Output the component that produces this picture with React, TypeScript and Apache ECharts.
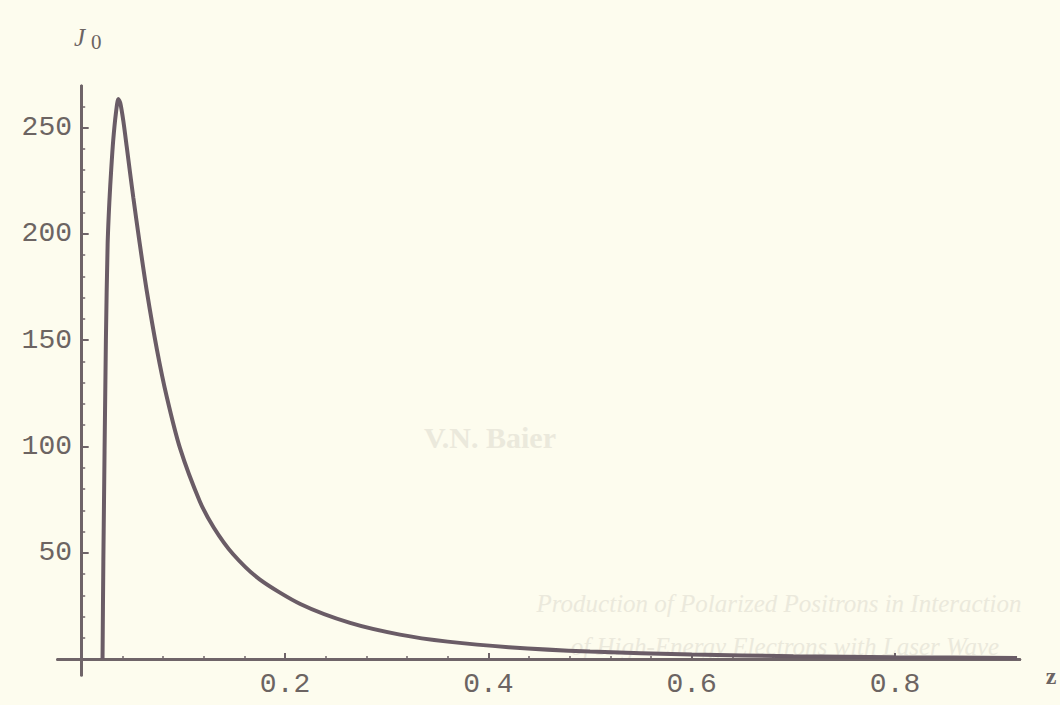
import React, { useEffect, useRef } from "react";
import * as echarts from "echarts";

// z values (abscissa) and J0 values
const zVals = [
  0.0205, 0.0213, 0.0238, 0.0255, 0.0272, 0.029, 0.031, 0.0337, 0.036, 0.038,
  0.041, 0.0443, 0.0475, 0.0508, 0.057, 0.064, 0.074, 0.0836, 0.0967, 0.116,
  0.13, 0.149, 0.175, 0.215, 0.264, 0.313, 0.36, 0.42, 0.5, 0.6, 0.7, 0.8, 0.92,
];
const jVals = [
  0, 46, 150, 195, 215, 230, 244, 257, 263.5, 261.5,
  253, 241, 229, 217, 195.7, 173.2, 145.6, 123.5, 99.2, 74.4,
  61.8, 49.3, 37.5, 25.9, 17.0, 11.5, 8.2, 5.6, 3.55, 2.13, 1.34, 0.86, 0.49,
];

const xMajorTicks = [0.2, 0.4, 0.6, 0.8];
const xMinorTicks = [0.04, 0.08, 0.12, 0.16, 0.24, 0.28, 0.32, 0.36, 0.44, 0.48, 0.52, 0.56, 0.64, 0.68, 0.72, 0.76, 0.84, 0.88];
const yMajorTicks = [50, 100, 150, 200, 250];
const yMinorTicks = [10, 20, 30, 40, 60, 70, 80, 90, 110, 120, 130, 140, 160, 170, 180, 190, 210, 220, 230, 240, 260];

const bleedTitle = "V.N. Baier";
const bleedLine1 = "Production of Polarized Positrons in Interaction";
const bleedLine2 = "of High-Energy Electrons with Laser Wave";

const X_MIN = -0.0236;
const X_MAX = 0.9226;
const Y_MIN = -7.5;
const Y_MAX = 269.6;

const AX = "#6f6468";
const LINE = "#6a5c66";
const TXT = "#6c6462";
const BG = "#fdfcee";
const FAINT = "#ebe9dc";

export default function App() {
  const ref = useRef<HTMLDivElement>(null);

  useEffect(() => {
    if (!ref.current) return;
    const chart = echarts.init(ref.current, null, { renderer: "svg" });

    const labelStyle = {
      fontFamily: "Liberation Mono",
      fontSize: 28,
      color: TXT,
    };

    const option = {
      animation: false,
      backgroundColor: BG,
      grid: {
        left: 57.7,
        right: 40.3,
        top: 86,
        bottom: 30,
        containLabel: false,
        outerBoundsMode: "none",
      },
      xAxis: [
        {
          type: "value",
          min: X_MIN,
          max: X_MAX,
          position: "bottom",
          axisLine: { show: true, onZero: true, lineStyle: { color: AX, width: 3 } },
          axisTick: {
            show: true,
            inside: true,
            length: 6,
            customValues: xMajorTicks,
            lineStyle: { color: AX, width: 2 },
          },
          axisLabel: {
            show: true,
            customValues: xMajorTicks,
            formatter: (v: number) => v.toFixed(1),
            margin: -5,
            ...labelStyle,
          },
          splitLine: { show: false },
        },
        {
          type: "value",
          min: X_MIN,
          max: X_MAX,
          position: "bottom",
          axisLine: { show: true, onZero: true, lineStyle: { color: AX, width: 3 } },
          axisTick: {
            show: true,
            inside: true,
            length: 3,
            customValues: xMinorTicks,
            lineStyle: { color: AX, width: 1.5 },
          },
          axisLabel: { show: false },
          splitLine: { show: false },
        },
      ],
      yAxis: [
        {
          type: "value",
          min: Y_MIN,
          max: Y_MAX,
          position: "left",
          axisLine: { show: true, onZero: true, lineStyle: { color: AX, width: 3 } },
          axisTick: {
            show: true,
            inside: true,
            length: 7,
            customValues: yMajorTicks,
            lineStyle: { color: AX, width: 2 },
          },
          axisLabel: {
            show: true,
            customValues: yMajorTicks,
            margin: -14.3,
            ...labelStyle,
          },
          splitLine: { show: false },
        },
        {
          type: "value",
          min: Y_MIN,
          max: Y_MAX,
          position: "left",
          axisLine: { show: true, onZero: true, lineStyle: { color: AX, width: 3 } },
          axisTick: {
            show: true,
            inside: true,
            length: 3.5,
            customValues: yMinorTicks,
            lineStyle: { color: AX, width: 1.5 },
          },
          axisLabel: { show: false },
          splitLine: { show: false },
        },
      ],
      series: [
        {
          type: "line",
          xAxisIndex: 0,
          yAxisIndex: 0,
          data: zVals.map((z, i) => [z, jVals[i]]),
          showSymbol: false,
          smooth: 0.25,
          lineStyle: { color: LINE, width: 4 },
          z: 5,
        },
      ],
      graphic: [
        {
          type: "text",
          x: 490,
          y: 437,
          silent: true,
          z: -10,
          style: {
            text: bleedTitle,
            font: "bold 30px 'Liberation Serif'",
            fill: FAINT,
            textAlign: "center",
            textVerticalAlign: "middle",
          },
        },
        {
          type: "text",
          x: 779,
          y: 603,
          silent: true,
          z: -10,
          style: {
            text: bleedLine1,
            font: "italic 25px 'Liberation Serif'",
            fill: FAINT,
            textAlign: "center",
            textVerticalAlign: "middle",
          },
        },
        {
          type: "text",
          x: 785,
          y: 646,
          silent: true,
          z: -10,
          style: {
            text: bleedLine2,
            font: "italic 25px 'Liberation Serif'",
            fill: FAINT,
            textAlign: "center",
            textVerticalAlign: "middle",
          },
        },
        {
          type: "text",
          x: 74,
          y: 25,
          style: {
            text: "J",
            font: "italic 25px 'Liberation Serif'",
            fill: TXT,
            textAlign: "left",
            textVerticalAlign: "top",
          },
        },
        {
          type: "text",
          x: 91,
          y: 31,
          style: {
            text: "0",
            font: "21px 'Liberation Serif'",
            fill: TXT,
            textAlign: "left",
            textVerticalAlign: "top",
          },
        },
        {
          type: "text",
          x: 1051,
          y: 676,
          style: {
            text: "z",
            font: "bold 24px 'Liberation Serif'",
            fill: TXT,
            textAlign: "center",
            textVerticalAlign: "middle",
          },
        },
      ],
    };

    chart.setOption(option as any);
    return () => chart.dispose();
  }, []);

  return (
    <div
      ref={ref}
      style={{ position: "fixed", left: 0, top: 0, width: 1060, height: 705 }}
    />
  );
}
